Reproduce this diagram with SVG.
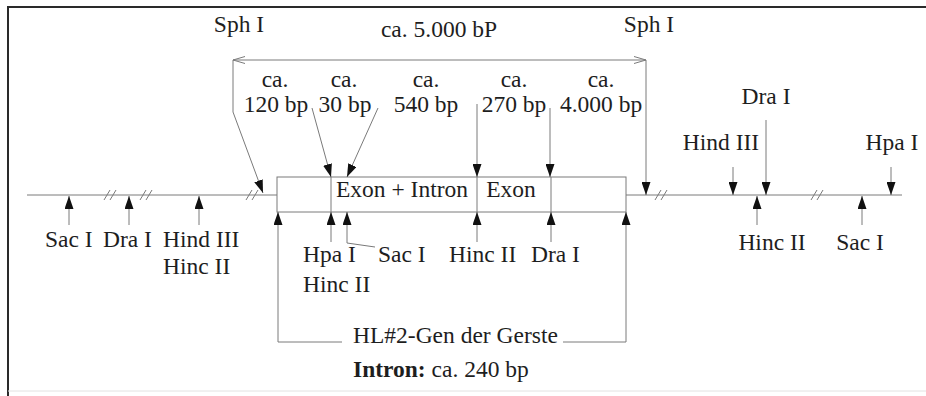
<svg xmlns="http://www.w3.org/2000/svg" width="926" height="396" viewBox="0 0 926 396">
<style>
.t{font-family:"Liberation Serif","Times New Roman",serif;font-size:23.5px;fill:#1e1e1e}
.m{text-anchor:middle}
.b{font-weight:bold}
.ln{stroke:#7a7a7a;stroke-width:1;fill:none}
.ar{stroke:#7a7a7a;stroke-width:1;fill:none;marker-end:url(#ah)}
.hs{stroke:#7a7a7a;stroke-width:1}
</style>
<defs>
<marker id="ah" viewBox="0 0 13 9" refX="13" refY="4.5" markerWidth="13" markerHeight="9" markerUnits="userSpaceOnUse" orient="auto">
<path d="M0,0 L13,4.5 L0,9 Z" fill="#111"/>
</marker>
<marker id="oa" viewBox="0 0 12 8" refX="12" refY="4" markerWidth="12" markerHeight="8" markerUnits="userSpaceOnUse" orient="auto">
<path d="M0,0.5 L12,4 L0,7.5" fill="none" stroke="#7a7a7a" stroke-width="1"/>
</marker>
</defs>
<rect width="926" height="396" fill="#fff"/>
<g id="frame">
<path d="M8,396 L8,7 L926,7" fill="none" stroke="#2a2a2a" stroke-width="2"/>
<line x1="8" y1="391" x2="926" y2="391" stroke="#e2e2e2" stroke-width="1"/>
</g>
<g id="dna">
<line class="ln" x1="27" y1="195" x2="277" y2="195"/>
<line class="ln" x1="626" y1="195" x2="902" y2="195"/>
<g id="breaks">
<path class="hs" d="M104,200 L110,190 M110,200 L116,190"/>
<path class="hs" d="M140,200 L146,190 M146,200 L152,190"/>
<path class="hs" d="M246,200 L252,190 M252,200 L258,190"/>
<path class="hs" d="M655,200 L661,190 M661,200 L667,190"/>
<path class="hs" d="M811,200 L817,190 M817,200 L823,190"/>
</g>
</g>
<g id="gene-box">
<rect x="277" y="177" width="349" height="35" fill="none" stroke="#7a7a7a" stroke-width="1"/>
<line class="ln" x1="331" y1="177" x2="331" y2="212"/>
<line class="ln" x1="477" y1="177" x2="477" y2="212"/>
<line class="ln" x1="551" y1="177" x2="551" y2="212"/>
<text class="t m" x="402" y="197">Exon + Intron</text>
<text class="t m" x="511" y="197">Exon</text>
</g>
<g id="connectors">
<line class="ln" x1="240" y1="60" x2="233" y2="60" marker-end="url(#oa)"/>
<line class="ln" x1="240" y1="60" x2="640" y2="60"/>
<line class="ln" x1="640" y1="60" x2="646" y2="60" marker-end="url(#oa)"/>
<path class="ar" d="M233,60 L233,112 L263,193"/>
<path class="ar" d="M646,60 L646,195"/>
<path class="ar" d="M312,108 L331,177"/>
<path class="ar" d="M378,108 L347,177"/>
<path class="ar" d="M477,104 L477,177"/>
<path class="ar" d="M550,108 L550,177"/>
<path class="ar" d="M331,242 L331,212"/>
<path class="ar" d="M375,247 L347,243 L347,212"/>
<path class="ar" d="M477,242 L477,212"/>
<path class="ar" d="M551,242 L551,212"/>
<path class="ar" d="M69,225 L69,196"/>
<path class="ar" d="M129,225 L129,196"/>
<path class="ar" d="M199,225 L199,196"/>
<path class="ar" d="M733,167 L733,195"/>
<path class="ar" d="M766,120 L766,195"/>
<path class="ar" d="M891,167 L891,195"/>
<path class="ar" d="M757,225 L757,196"/>
<path class="ar" d="M862,225 L862,196"/>
<path class="ar" d="M342,342 L278,342 L278,212"/>
<path class="ar" d="M563,342 L626,342 L626,212"/>
</g>
<g id="top-labels">
<text class="t m" x="239" y="32">Sph I</text>
<text class="t m" x="439" y="37">ca. 5.000 bP</text>
<text class="t m" x="649" y="32">Sph I</text>
<text class="t m" x="275" y="87">ca.</text>
<text class="t m" x="276" y="112">120 bp</text>
<text class="t m" x="344" y="87">ca.</text>
<text class="t m" x="345" y="112">30 bp</text>
<text class="t m" x="426" y="87">ca.</text>
<text class="t m" x="426" y="112">540 bp</text>
<text class="t m" x="514" y="87">ca.</text>
<text class="t m" x="514" y="112">270 bp</text>
<text class="t m" x="601" y="87">ca.</text>
<text class="t m" x="601" y="112">4.000 bp</text>
</g>
<g id="left-sites">
<text class="t" x="45" y="247">Sac I</text>
<text class="t" x="103" y="247">Dra I</text>
<text class="t" x="163" y="247">Hind III</text>
<text class="t" x="163" y="274">Hinc II</text>
</g>
<g id="gene-sites">
<text class="t" x="303" y="262">Hpa I</text>
<text class="t" x="303" y="292">Hinc II</text>
<text class="t" x="378" y="262">Sac I</text>
<text class="t" x="449" y="262">Hinc II</text>
<text class="t" x="531" y="262">Dra I</text>
</g>
<g id="right-sites">
<text class="t m" x="721" y="150">Hind III</text>
<text class="t m" x="766" y="104">Dra I</text>
<text class="t m" x="892" y="150">Hpa I</text>
<text class="t m" x="772" y="250">Hinc II</text>
<text class="t m" x="860" y="250">Sac I</text>
</g>
<g id="gene-label">
<text class="t" x="353" y="343">HL#2-Gen der Gerste</text>
<text class="t" x="353" y="377"><tspan class="b">Intron:</tspan> ca. 240 bp</text>
</g>
</svg>
